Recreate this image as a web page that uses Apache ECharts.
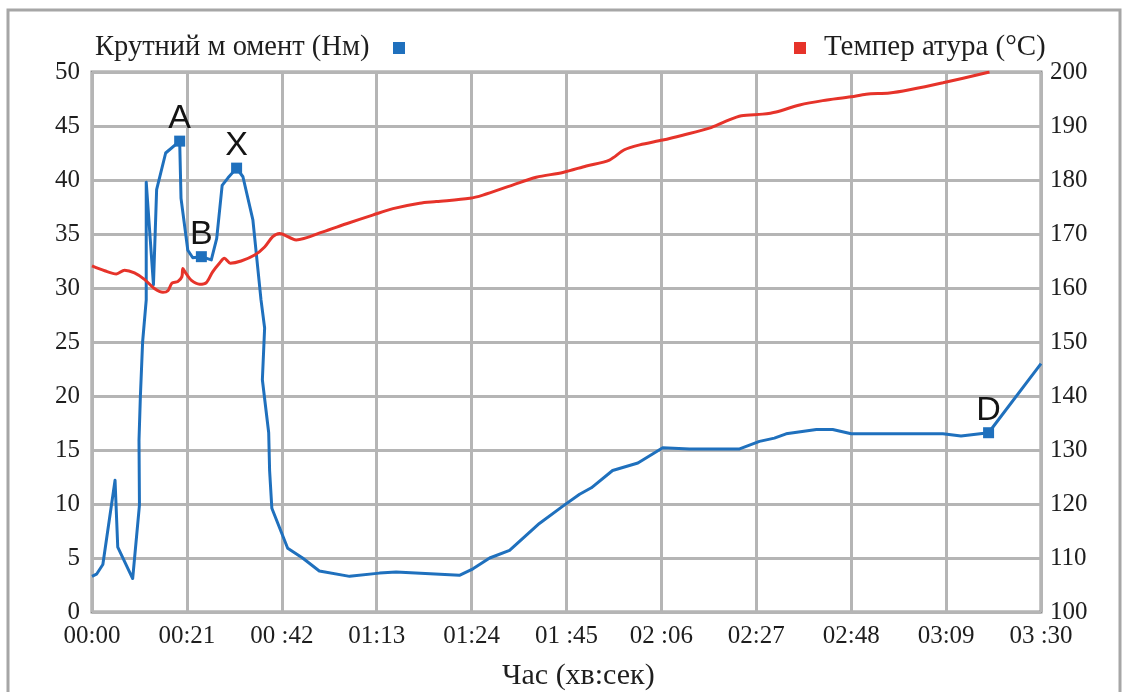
<!DOCTYPE html>
<html>
<head>
<meta charset="utf-8">
<script src="https://cdn.jsdelivr.net/npm/echarts@6/dist/echarts.min.js"></script>
<style>
  html, body { margin: 0; padding: 0; background: #ffffff; }
  #chart { width: 1126px; height: 692px; }
</style>
</head>
<body>
<div id="chart"></div>
<script>
// Time axis: seconds from start, tick every 21 s
const timeTickLabels = ['00:00', '00:21', '00 :42', '01:13', '01:24', '01 :45', '02 :06', '02:27', '02:48', '03:09', '03 :30'];

// Torque curve (Nm) — time in seconds
const torqueTime = [0, 1.0, 2.4, 5.1, 5.7, 9.0, 10.5, 10.4, 10.7, 11.2, 12.0, 12.0, 13.6, 14.3, 16.3, 19.4, 19.7, 21.2, 22.3, 24.2,
  26.4, 27.6, 28.8, 30.1, 32.0, 33.4, 35.6, 37.4, 38.2, 37.7, 39.1, 39.3, 39.8, 43.3, 46.6, 50.3, 57.0, 63.6, 67.3, 81.3,
  84.3, 88.0, 92.4, 99.0, 104.2, 107.9, 110.5, 115.2, 120.8, 126.3, 132.2, 143.3, 147.7, 151.0, 153.6, 160.3, 163.9, 168.0, 188.3, 192.3,
  198.4, 210];
const torqueValue = [3.3, 3.5, 4.4, 12.2, 6.0, 3.1, 9.9, 15.9, 19.9, 25.0, 28.9, 39.8, 30.3, 39.1, 42.5, 43.6, 38.3, 33.5, 32.8, 32.9,
  32.6, 34.6, 39.5, 40.2, 41.1, 40.3, 36.3, 28.9, 26.3, 21.5, 16.6, 13.1, 9.6, 5.9, 5.0, 3.8, 3.3, 3.6, 3.7, 3.4,
  4.0, 5.0, 5.7, 8.2, 9.8, 10.9, 11.5, 13.1, 13.8, 15.2, 15.1, 15.1, 15.8, 16.1, 16.5, 16.9, 16.9, 16.5, 16.5, 16.3,
  16.6, 23.0];

// Labelled torque points: name and position in the torque arrays
const markNames = ['A', 'B', 'X', 'D'];
const markIndex = [15, 19, 24, 60];

// Temperature curve (°C) — time in seconds
const tempTime = [0, 2.8, 5.4, 7.2, 9.4, 11.6, 13.8, 15.7, 16.8, 17.7, 19.0, 19.9, 20.1, 20.8, 22.0, 23.8, 25.3, 26.7, 28.2, 29.3,
  30.6, 33.0, 36.0, 38.2, 40.0, 41.5, 45.2, 51.1, 56.3, 62.1, 66.6, 72.5, 76.2, 83.6, 86.5, 93.2, 98.3, 104.2, 109.4, 114.5,
  117.8, 121.2, 126.3, 130.7, 136.6, 140.3, 143.7, 148.4, 151.4, 156.6, 161.7, 168.0, 171.3, 176.5, 180.9, 188.3, 198.6];
const tempValue = [164.1, 163.2, 162.6, 163.3, 162.8, 161.6, 159.9, 159.2, 159.5, 160.9, 161.2, 162.1, 163.6, 162.7, 161.4, 160.7, 161.0, 163.0, 164.6, 165.5,
  164.6, 165.0, 166.1, 167.6, 169.5, 170.1, 168.9, 170.4, 171.9, 173.5, 174.7, 175.7, 176.0, 176.6, 177.2, 179.1, 180.5, 181.4, 182.6, 183.7,
  185.6, 186.5, 187.4, 188.3, 189.6, 190.9, 191.9, 192.2, 192.6, 193.9, 194.7, 195.4, 195.9, 196.1, 196.7, 198.0, 200.0];

const torqueName = 'Крутний м омент (Нм)';
const tempName = 'Темпер атура (°C)';
const xName = 'Час (хв:сек)';

const BLUE = '#1f70bd';
const RED = '#e6332a';
const SERIF = '"Liberation Serif", "Times New Roman", serif';
const TEXT = '#1e1e1e';

const chart = echarts.init(document.getElementById('chart'), null, { renderer: 'canvas' });

const option = {
  backgroundColor: '#ffffff',
  animation: false,
  grid: {
    left: 92, right: 85, top: 72, bottom: 80,
    show: true, borderColor: '#8f8f8f', borderWidth: 3, backgroundColor: 'transparent'
  },
  xAxis: {
    type: 'value', min: 0, max: 210, interval: 21,
    axisLine: { show: false }, axisTick: { show: false },
    splitLine: { show: true, lineStyle: { color: '#b5b5b5', width: 3 } },
    axisLabel: {
      margin: 12, fontFamily: SERIF, fontSize: 25, color: TEXT,
      formatter: v => timeTickLabels[Math.round(v / 21)]
    }
  },
  yAxis: [
    {
      type: 'value', min: 0, max: 50, interval: 5,
      axisLine: { show: false }, axisTick: { show: false },
      splitLine: { show: true, lineStyle: { color: '#b5b5b5', width: 3 } },
      axisLabel: { margin: 12, fontFamily: SERIF, fontSize: 25, color: TEXT }
    },
    {
      type: 'value', min: 100, max: 200, interval: 10, position: 'right',
      axisLine: { show: false }, axisTick: { show: false },
      splitLine: { show: false },
      axisLabel: { margin: 9, fontFamily: SERIF, fontSize: 25, color: TEXT }
    }
  ],
  series: [
    {
      name: torqueName, type: 'line', yAxisIndex: 0,
      data: torqueTime.map((t, i) => [t, torqueValue[i]]),
      showSymbol: false, symbol: 'none',
      lineStyle: { color: BLUE, width: 3, join: 'round' },
      z: 3
    },
    {
      name: tempName, type: 'line', yAxisIndex: 1,
      data: tempTime.map((t, i) => [t, tempValue[i]]),
      showSymbol: false, symbol: 'none', smooth: 0.3,
      lineStyle: { color: RED, width: 3 },
      z: 4
    },
    {
      name: 'marks', type: 'scatter', yAxisIndex: 0,
      data: markIndex.map((k, j) => ({ name: markNames[j], value: [torqueTime[k], torqueValue[k]] })),
      symbol: 'rect', symbolSize: 11,
      itemStyle: { color: BLUE, opacity: 1 },
      label: {
        show: true, position: 'top', distance: 0, formatter: '{b}',
        fontFamily: '"Liberation Sans", Arial, sans-serif', fontSize: 34, color: '#141414', opacity: 1
      },
      emphasis: { disabled: true },
      z: 5
    }
  ],
  graphic: [
    {
      type: 'rect', silent: true, z: 0,
      shape: { x: 8, y: 10, width: 1112, height: 720 },
      style: { fill: 'transparent', stroke: '#a6a6a6', lineWidth: 3 }
    },
    {
      type: 'text', left: 95, top: 33,
      style: { text: torqueName, font: '28.5px ' + SERIF, fill: TEXT }
    },
    {
      type: 'rect', shape: { x: 393, y: 42, width: 12, height: 12 },
      style: { fill: BLUE }
    },
    {
      type: 'rect', shape: { x: 794, y: 42, width: 12, height: 12 },
      style: { fill: RED }
    },
    {
      type: 'text', left: 824, top: 33,
      style: { text: tempName, font: '29px ' + SERIF, fill: TEXT }
    },
    {
      type: 'text', left: 502, top: 661,
      style: { text: xName, font: '30px ' + SERIF, fill: TEXT }
    }
  ]
};

chart.setOption(option);
</script>
</body>
</html>
